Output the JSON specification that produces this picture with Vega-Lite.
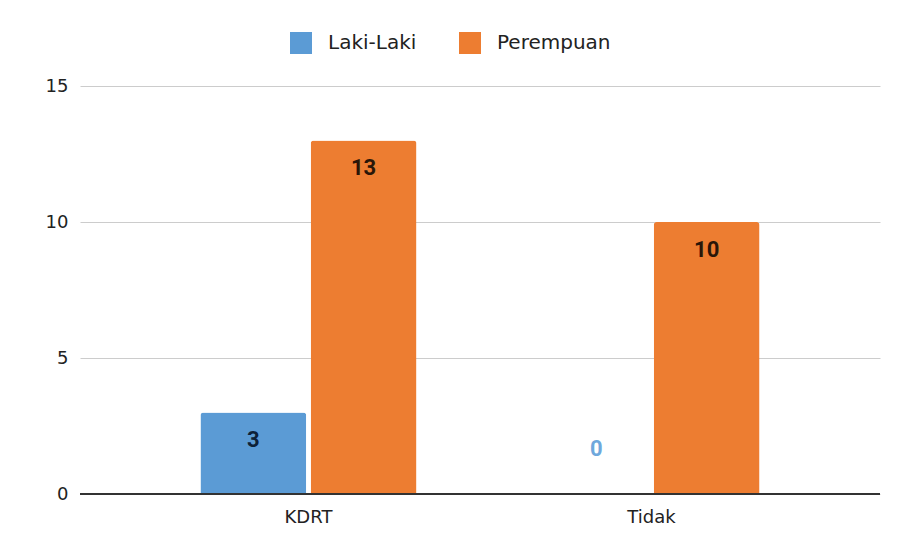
{
  "$schema": "https://vega.github.io/schema/vega-lite/v6.json",
  "width": 800,
  "height": 408,
  "autosize": {"type": "none"},
  "padding": {"left": 80, "top": 86, "right": 17, "bottom": 62},
  "background": "white",
  "config": {
    "view": {"stroke": null},
    "font": "DejaVu Sans"
  },
  "data": {
    "values": [
      {"kategori": "KDRT", "jenis": "Laki-Laki", "jumlah": 3},
      {"kategori": "KDRT", "jenis": "Perempuan", "jumlah": 13},
      {"kategori": "Tidak", "jenis": "Laki-Laki", "jumlah": 0},
      {"kategori": "Tidak", "jenis": "Perempuan", "jumlah": 10}
    ]
  },
  "encoding": {
    "x": {
      "field": "kategori",
      "type": "nominal",
      "sort": ["KDRT", "Tidak"],
      "scale": {"paddingInner": 0.37, "paddingOuter": 0.351},
      "axis": {
        "title": null,
        "labelAngle": 0,
        "labelFont": "DejaVu Sans",
        "labelFontSize": 18,
        "labelColor": "#222222",
        "labelPadding": 14,
        "ticks": false,
        "domain": false
      }
    },
    "xOffset": {
      "field": "jenis",
      "type": "nominal",
      "sort": ["Laki-Laki", "Perempuan"],
      "scale": {"paddingInner": 0.04}
    },
    "y": {
      "field": "jumlah",
      "type": "quantitative",
      "scale": {"domain": [0, 15], "nice": false},
      "axis": {
        "title": null,
        "values": [0, 5, 10, 15],
        "labelFont": "DejaVu Sans",
        "labelFontSize": 18,
        "labelColor": "#222222",
        "labelPadding": 12,
        "ticks": false,
        "domain": false,
        "gridColor": "#cccccc",
        "gridWidth": 1
      }
    }
  },
  "layer": [
    {
      "mark": {"type": "bar", "cornerRadiusTopLeft": 3, "cornerRadiusTopRight": 3},
      "encoding": {
        "color": {
          "field": "jenis",
          "type": "nominal",
          "sort": ["Laki-Laki", "Perempuan"],
          "scale": {"domain": ["Laki-Laki", "Perempuan"], "range": ["#5b9bd5", "#ed7d31"]},
          "legend": {
            "title": null,
            "orient": "none",
            "legendX": 210,
            "legendY": -54,
            "direction": "horizontal",
            "padding": 0,
            "symbolType": "square",
            "symbolSize": 484,
            "symbolStrokeWidth": 0,
            "labelFont": "DejaVu Sans",
            "labelFontSize": 20,
            "labelColor": "#222222",
            "labelOffset": 16,
            "columnPadding": 42
          }
        }
      }
    },
    {
      "mark": {"type": "rule", "color": "#333333", "strokeWidth": 1.5},
      "encoding": {
        "y": {"datum": 0},
        "x": null,
        "xOffset": null
      }
    },
    {
      "transform": [{"filter": "datum.jumlah > 0"}],
      "mark": {"type": "text", "dy": 28, "baseline": "middle", "font": "Roboto", "fontWeight": "bold", "fontSize": 22},
      "encoding": {
        "text": {"field": "jumlah", "type": "quantitative"},
        "color": {
          "condition": {"test": "datum.jenis === 'Laki-Laki'", "value": "#0d2138"},
          "value": "#2a1608"
        }
      }
    },
    {
      "transform": [{"filter": "datum.jumlah === 0"}],
      "mark": {"type": "text", "dy": -45, "baseline": "middle", "font": "Roboto", "fontWeight": "bold", "fontSize": 22, "color": "#6fa8dc"},
      "encoding": {
        "text": {"field": "jumlah", "type": "quantitative"}
      }
    }
  ]
}
